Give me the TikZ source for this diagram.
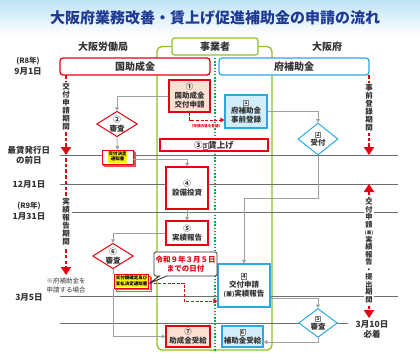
\documentclass[tikz,border=0pt]{standalone}
\usepackage{fontspec}
\setmainfont{Noto Sans CJK JP}
\usetikzlibrary{arrows.meta,shapes.geometric,shapes.callouts,shadows,calc}
\definecolor{cred}{HTML}{E60012}
\definecolor{cblue}{HTML}{2EA7E0}
\definecolor{clight}{HTML}{D3EDFA}
\definecolor{csalmon}{HTML}{FCE1D4}
\definecolor{cgreen}{HTML}{8DC21F}
\definecolor{cdgreen}{HTML}{00A651}
\definecolor{clinegray}{HTML}{6E6E6E}
\definecolor{cconn}{HTML}{A0A0A0}
\definecolor{cdark}{HTML}{333333}
\definecolor{cnavy}{HTML}{1F3A93}
\definecolor{ctitlebg}{HTML}{BFE3F6}
\definecolor{cyellow}{HTML}{FFF100}
\newcommand\bnum[1]{{\setlength\fboxsep{0.7pt}\setlength\fboxrule{0.4pt}\fcolorbox{gray}{white}{\fontsize{5.5}{5.5}\selectfont #1}}}
\newcommand\cnum[1]{{\fontsize{7.5}{8}\selectfont #1}}
\newcommand\ytext[1]{{\setlength\fboxsep{0.5pt}\colorbox{cyellow}{\begin{tabular}{@{}c@{}}#1\end{tabular}}}}
\tikzset{
 hline/.style={draw=clinegray, line width=0.9pt},
 conn/.style={draw=cconn, line width=0.8pt, -{Triangle[width=4pt,length=3.5pt]}},
 connplain/.style={draw=cconn, line width=0.8pt},
 boxbase/.style={align=center, inner sep=0pt, text=cdark, font=\fontsize{7.5}{9}\selectfont\bfseries},
 redbox/.style={boxbase, draw=cred, line width=1.2pt, fill=white},
 bluebox/.style={boxbase, draw=cblue, line width=1.2pt, fill=white},
 rdiam/.style={boxbase, diamond, aspect=1.6, draw=cred, line width=1pt, fill=white, minimum width=40pt, minimum height=25pt},
 bdiam/.style={boxbase, diamond, aspect=1.6, draw=cblue, line width=1pt, fill=white, minimum width=40pt, minimum height=25pt},
 bigdash/.style={draw=cred, line width=2.6pt, dash pattern=on 3.5pt off 2.2pt},
 bigtip/.style={-{Triangle[width=10pt,length=8pt]}},
 rdash/.style={draw=cred, line width=1pt, dash pattern=on 3pt off 1.6pt, -{Triangle[width=4.5pt,length=4pt]}},
 vtxt/.style={fill=white, inner sep=1pt, align=center, text=cdark, font=\fontsize{7.5}{8}\selectfont\bfseries},
 datelbl/.style={align=center, text=cdark, font=\fontsize{8.5}{11}\selectfont\bfseries},
 ybox/.style={draw=cred, line width=0.7pt, fill=white, inner sep=1pt, font=\fontsize{4.5}{5.3}\selectfont\bfseries,
   double copy shadow={shadow xshift=1.2pt, shadow yshift=-1.2pt, draw=cred!70, fill=white, line width=0.5pt}},
 head/.style={boxbase, font=\fontsize{10}{12}\selectfont\bfseries}
}
\begin{document}
\begin{tikzpicture}[x=1pt,y=-1pt]
\useasboundingbox (0,0) rectangle (420,362);
% title band
\shade[top color=ctitlebg, bottom color=white] (0,0) rectangle (420,36);
\node[font=\fontsize{15}{15}\selectfont\bfseries, text=cnavy] (title) at (215,18) {大阪府業務改善・賃上げ促進補助金の申請の流れ};
% column heads
\node[head] (rou) at (103,47) {大阪労働局};
\node[head] (fu) at (327,47) {大阪府};
\node[head, draw=cgreen, line width=1.2pt, fill=white, rounded corners=2.5pt, minimum width=86pt, minimum height=17pt] (jg) at (215,46.5) {事業者};
% green column
\draw[draw=cgreen, line width=1.3pt, rounded corners=5pt] (jg.west) -- (157,46.5) -- (157,350) -- (272,350) -- (272,46.5) -- (jg.east);
% dotted center line
\draw[draw=cdgreen, line width=1.3pt, dash pattern=on 1.3pt off 1.9pt] (215,58) -- (215,352);
% horizontal time lines
\draw[hline] (60,155) -- (398,155);
\draw[hline] (60,184) -- (398,184);
\draw[hline] (72,212) -- (398,212);
\draw[hline] (60,296) -- (398,296);
\draw[hline] (60,323) -- (348,323);
% header boxes
\node[head, draw=cred, line width=1.3pt, fill=white, rounded corners=3pt, minimum width=150pt, minimum height=17pt] (hk) at (135,66.5) {国助成金};
\node[head, draw=cblue, line width=1.3pt, fill=white, rounded corners=3pt, minimum width=150pt, minimum height=17pt] (hf) at (294,66.5) {府補助金};
% date labels
\node[datelbl] (d1) at (28,66.5) {{\fontsize{7.5}{8}\selectfont (R8年)}\\9月1日};
\node[datelbl, font=\fontsize{8.5}{9.5}\selectfont\bfseries] (d2) at (29,155.5) {最賃発行日\\の前日};
\node[datelbl] (d3) at (29,184) {12月1日};
\node[datelbl] (d4) at (29,211) {{\fontsize{7.5}{8}\selectfont (R9年)}\\1月31日};
\node[datelbl] (d5) at (29,297) {3月5日};
\node[align=center, text=cdark, font=\fontsize{6.5}{9}\selectfont] (note) at (66,285.5) {※府補助金を\\申請する場合};
\node[datelbl, font=\fontsize{8.5}{10.5}\selectfont\bfseries] (d6) at (372,329.5) {3月10日\\必着};
% big red period arrows
\coordinate (a0) at (66,75); \coordinate (a1) at (66,155);
\coordinate (a2) at (66,158); \coordinate (a3) at (66,275);
\coordinate (r0) at (369,75); \coordinate (r1) at (369,155);
\coordinate (r2) at (369,184); \coordinate (r3) at (369,318);
\draw[bigdash, bigtip] (a0) -- (a1);
\draw[bigdash, bigtip] (a2) -- (a3);
\draw[bigdash, bigtip] (r0) -- (r1);
\draw[bigdash, {Triangle[width=10pt,length=8pt]}-{Triangle[width=10pt,length=8pt]}] (r2) -- (r3);
\node[vtxt] (va) at (66,107) {交\\付\\申\\請\\期\\間};
\node[vtxt] (vb) at (66,222) {実\\績\\報\\告\\期\\間};
\node[vtxt] (vc) at (369,108) {事\\前\\登\\録\\期\\間};
\node[vtxt, font=\fontsize{7.2}{7.5}\selectfont\bfseries] (vd) at (369,251) {交\\付\\申\\請\\{\fontsize{4.5}{5}\selectfont(兼)}\\実\\績\\報\\告\\・\\提\\出\\期\\間};
% business operator nodes
\node[redbox, fill=csalmon, minimum width=41pt, minimum height=32pt] (n1) at (189.5,96) {\cnum{①}\\国助成金\\交付申請};
\node[bluebox, fill=clight, minimum width=42pt, minimum height=33pt] (b1) at (246,111.5) {\bnum{1}\\府補助金\\事前登録};
\node[redbox, minimum width=108pt, minimum height=12pt, font=\fontsize{8.5}{9}\selectfont\bfseries] (n3) at (214,145) {③\bnum{3}賃上げ};
\node[redbox, minimum width=42pt, minimum height=42pt] (n4) at (187,188) {\cnum{④}\\設備投資};
\node[redbox, minimum width=42pt, minimum height=24pt] (n5) at (187,233) {\cnum{⑤}\\実績報告};
\node[redbox, fill=csalmon, line width=1.5pt, minimum width=44pt, minimum height=21pt] (n7) at (188,336.5) {\cnum{⑦}\\助成金受給};
\node[bluebox, minimum width=52pt, minimum height=43pt] (b4) at (244,285.5) {\bnum{4}\\交付申請\\{\fontsize{6}{6}\selectfont(兼)}実績報告};
\node[bluebox, fill=clight, line width=1.5pt, minimum width=41pt, minimum height=21pt] (b6) at (242.5,336.5) {\bnum{6}\\補助金受給};
% diamonds
\node[rdiam] (dm2) at (117,124) {\cnum{②}\\審査};
\node[rdiam] (dm6) at (113,256) {\cnum{⑥}\\審査};
\node[bdiam, minimum height=32pt] (db2) at (318,139) {\bnum{2}\\受付};
\node[bdiam, minimum width=38pt, minimum height=29pt] (db5) at (318,323) {\bnum{5}\\審査};
% yellow notice boxes
\node[ybox, minimum width=31pt] (yb1) at (117.5,157) {\ytext{交付決定\\通知書}};
\node[ybox] (yb2) at (131.5,281.5) {\ytext{交付額確定及び\\支払決定通知書}};
% callout
\node[rectangle callout, draw=cdark, line width=0.9pt, fill=white, rounded corners=1.5pt, minimum width=63pt, minimum height=24pt, inner sep=0pt, align=center, text=cred, font=\fontsize{7.5}{9.5}\selectfont\bfseries, callout absolute pointer={([yshift=-2pt]yb2.east)}] (co) at (185.5,264) {令和９年３月５日\\までの日付};
% grey connectors
\draw[conn] (n1.west) -| (dm2.north);
\draw[conn] (dm2.south) -- (yb1.north);
\draw[conn] ([yshift=-2.5pt]yb1.east) -| (n4.north);
\draw[conn] (b1.east) -| (db2.north);
\coordinate (k1) at (318,198);
\draw[conn] (db2.south) -- (k1) -| (b4.north);
\draw[conn] (n4.south) -- (n5.north);
\draw[conn] (n5.west) -| (dm6.north);
\draw[connplain] (dm6.south) -- (dm6.south |- yb2.north);
\draw[conn] (dm6.south |- yb2.south) |- (n7.west);
\draw[conn] ([yshift=-12.5pt]b4.east) -| (db5.north);
\draw[conn] (db5.south) |- ([yshift=-5.5pt]b6.east);
% red dashed connectors
\draw[rdash] (n1.south) |- ([yshift=-8.5pt]b1.west);
\node[text=cred, font=\fontsize{3.6}{4}\selectfont\bfseries, inner sep=0.5pt, fill=white] (tiny) at (206,126) {（申請内容を登録）};
\draw[rdash] ([yshift=-1.5pt]yb2.east) -- ++(35,0) |- ([yshift=-15.5pt]b4.west);
\end{tikzpicture}
\end{document}
